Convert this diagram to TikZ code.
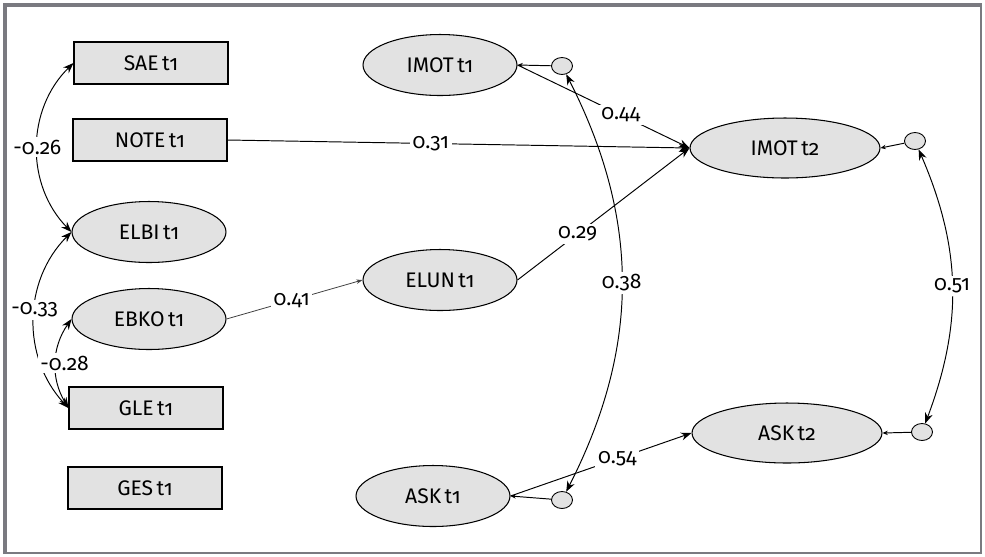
\documentclass[tikz,border=0pt]{standalone}
\usepackage{fontspec}
\setmainfont{Fira Sans}[Numbers=OldStyle]
\usetikzlibrary{shapes.geometric,arrows.meta}
\definecolor{boxgray}{RGB}{226,226,226}
\definecolor{framegray}{RGB}{122,122,128}

\begin{document}
\begin{tikzpicture}[x=0.02cm,y=-0.02cm,
    font=\fontsize{12}{14}\selectfont,
    obs/.style={draw,fill=boxgray,line width=0.6pt,minimum width=3.08cm,minimum height=0.84cm,inner sep=0pt},
    lat/.style={draw,fill=boxgray,ellipse,line width=0.6pt,minimum width=3.08cm,minimum height=1.22cm,inner sep=0pt},
    latb/.style={lat,minimum width=3.8cm,minimum height=1.2cm},
    res/.style={draw,fill=boxgray,ellipse,line width=0.5pt,minimum width=0.42cm,minimum height=0.34cm,inner sep=0pt},
    reg/.style={-{Stealth[length=6pt,width=4.5pt]},line width=0.55pt},
    thinreg/.style={-{Stealth[length=3.5pt,width=2.5pt]},line width=0.45pt,draw=black!75},
    resarr/.style={-{Stealth[length=3pt,width=2.5pt]},line width=0.55pt},
    cov/.style={{Stealth[length=6pt,width=4.5pt]}-{Stealth[length=6pt,width=4.5pt]},line width=0.55pt},
    lbl/.style={fill=white,text=black,inner sep=1.5pt,font=\fontsize{12}{14}\selectfont}]
  \useasboundingbox (0,0) rectangle (985,556);
  \draw[framegray,line width=1.2pt] (5,553) -- (981,553) -- (981,5);
  \draw[framegray,line width=2.4pt] (5,554) -- (5,5) -- (982,5);

  % left block
  \node[obs] (sae) at (151,63) {SAE\,t1};
  \node[obs] (note) at (150,140) {NOTE\,t1};
  \node[lat] (elbi) at (149,232) {ELBI\,t1};
  \node[lat] (ebko) at (149,319) {EBKO\,t1};
  \node[obs] (gle) at (146,408) {GLE\,t1};
  \node[obs] (ges) at (145,488) {GES\,t1};

  % middle and right
  \node[lat] (imot1) at (440,65) {IMOT\,t1};
  \node[lat] (elun) at (440,280) {ELUN\,t1};
  \node[lat] (ask1) at (433,496) {ASK\,t1};
  \node[latb] (imot2) at (785,148) {IMOT\,t2};
  \node[latb] (ask2) at (787,433) {ASK\,t2};

  \node[res] (e1) at (562,66) {};
  \node[res] (e2) at (915,141) {};
  \node[res] (e3) at (562,500) {};
  \node[res] (e4) at (922,432) {};

  \draw[reg] (note.east) -- node[lbl,pos=0.44] {0.31} (imot2.west);
  \draw[reg] (imot1.east) -- node[lbl,pos=0.6] {0.44} (imot2.west);
  \draw[reg] (elun.east) -- node[lbl,pos=0.35] {0.29} (imot2.west);
  \draw[thinreg] (ebko.east) -- node[lbl,pos=0.48] {0.41} (elun.west);
  \draw[reg] (ask1.east) -- node[lbl,pos=0.59] {0.54} (ask2.west);

  \draw[resarr] (e1) -- (imot1.east);
  \draw[resarr] (e2) -- (imot2.east);
  \draw[resarr] (e3) -- (ask1.east);
  \draw[resarr] (e4) -- (ask2.east);

  \draw[cov] (e1) to[bend left=27] node[lbl] {0.38} (e3);
  \draw[cov] (e2) to[bend left=22] node[lbl] {0.51} (e4);
  \draw[cov] (sae.west) to[bend right=45] node[lbl] {-0.26} (elbi.west);
  \draw[cov] (elbi.west) to[bend right=44] node[lbl,pos=0.45] {-0.33} (gle.west);
  \draw[cov] (ebko.west) to[bend right=33] node[lbl,xshift=5pt] {-0.28} (gle.west);
\end{tikzpicture}
\end{document}
